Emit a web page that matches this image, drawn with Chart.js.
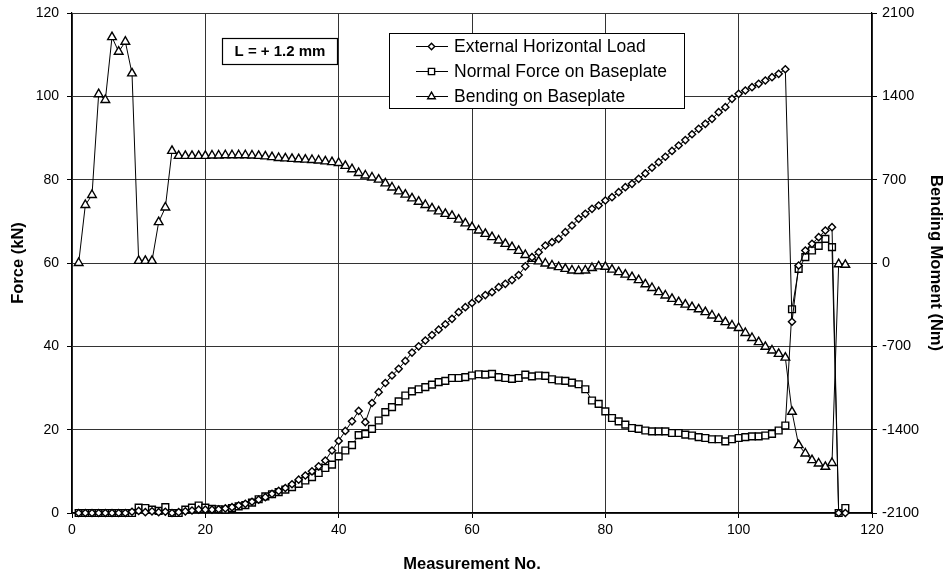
<!DOCTYPE html>
<html>
<head>
<meta charset="utf-8">
<script src="https://cdn.jsdelivr.net/npm/chart.js@4.4.1/dist/chart.umd.min.js"></script>
<style>
  html, body { margin: 0; padding: 0; background: #ffffff; }
  #wrap { width: 951px; height: 578px; position: relative; }
</style>
</head>
<body>
<div id="wrap"><canvas id="c" width="951" height="578"></canvas></div>
<script>
const measurement = [1,2,3,4,5,6,7,8,9,10,11,12,13,14,15,16,17,18,19,20,
  21,22,23,24,25,26,27,28,29,30,31,32,33,34,35,36,37,38,39,40,
  41,42,43,44,45,46,47,48,49,50,51,52,53,54,55,56,57,58,59,60,
  61,62,63,64,65,66,67,68,69,70,71,72,73,74,75,76,77,78,79,80,
  81,82,83,84,85,86,87,88,89,90,91,92,93,94,95,96,97,98,99,100,
  101,102,103,104,105,106,107,108,109,110,111,112,113,114,115,116];

// External Horizontal Load (kN)
const externalLoad = [0,0,0,0,0,0,0,0,0.3,0.5,
  0.2,0.4,0.2,0.3,0,0.2,0.4,0.6,0.8,0.8,
  0.8,0.9,1.1,1.4,1.8,2.2,2.7,3.2,3.8,4.6,
  5.3,6.0,6.9,8.0,9.0,10.0,11.2,12.6,15.0,17.3,
  19.7,22.0,24.5,21.8,26.4,29.0,31.2,33.0,34.6,36.5,
  38.5,40.0,41.4,42.7,44.0,45.3,46.6,48.2,49.4,50.4,
  51.4,52.3,53.0,54.2,55.0,55.9,57.1,59.2,61.4,62.6,
  64.2,65.0,65.8,67.4,69.0,70.6,71.8,73.0,73.8,75.0,
  75.8,77.0,78.2,79.0,80.2,81.5,82.9,84.2,85.5,86.9,
  88.2,89.5,90.9,92.2,93.4,94.6,96.2,97.4,99.4,100.6,
  101.4,102.2,103.0,103.8,104.6,105.4,106.5,45.9,59.4,63.0,
  64.6,66.2,67.8,68.6,0,0];

// Normal Force on Baseplate (kN)
const normalForce = [0,0,0,0,0,0,0,0,0,1.3,
  1.2,0.8,0.5,1.4,0,0,0.8,1.3,1.8,1.3,
  1.0,0.9,0.8,1.2,1.6,1.9,2.5,3.3,4.0,4.5,
  5.0,5.6,6.2,7.0,7.8,8.6,9.6,10.8,11.6,13.6,
  15.0,16.3,18.7,19.0,20.2,22.2,24.2,25.4,26.8,28.2,
  29.2,29.7,30.2,30.8,31.4,31.7,32.4,32.4,32.6,33.0,
  33.3,33.2,33.4,32.6,32.4,32.2,32.4,33.2,32.8,33.0,
  32.9,32.1,31.8,31.7,31.3,30.9,29.7,27.0,26.2,24.4,
  22.8,22.0,21.2,20.4,20.2,19.8,19.6,19.6,19.6,19.2,
  19.2,18.8,18.6,18.2,18.0,17.7,17.7,17.2,17.7,18.0,
  18.2,18.4,18.4,18.6,19.0,19.8,21.0,48.9,58.6,61.4,
  63.0,64.1,65.8,63.8,0,1.2];

// Bending on Baseplate (Nm)
const bendingMoment = [0,487,571,1418,1369,1897,1775,1859,1593,18,
  18,18,343,466,942,900,900,900,900,900,
  903,903,905,905,905,905,903,900,896,889,
  882,879,875,872,868,865,861,854,847,840,
  816,788,756,735,718,700,669,634,602,574,
  543,515,487,459,434,413,396,364,333,301,
  273,245,217,189,161,133,102,67,35,14,
  -4,-21,-35,-49,-63,-67,-63,-42,-28,-32,
  -56,-77,-98,-119,-144,-179,-210,-245,-273,-301,
  -329,-350,-371,-389,-413,-441,-469,-497,-525,-546,
  -588,-630,-665,-704,-735,-763,-795,-1250,-1530,-1600,
  -1656,-1684,-1712,-1680,-10,-15];

const seriesNames = ['External Horizontal Load', 'Normal Force on Baseplate', 'Bending on Baseplate'];
const annotationText = 'L = + 1.2 mm';
const xTitle = 'Measurement No.';
const yTitle = 'Force (kN)';
const y1Title = 'Bending Moment (Nm)';

function pts(vals) { return measurement.map((m, i) => ({ x: m, y: vals[i] })); }

const FONT = '"Liberation Sans", Arial, Helvetica, sans-serif';

const styles = [
  { pointStyle: 'rectRot', pointRadius: 3.6 },
  { pointStyle: 'rect', pointRadius: 4.8 },
  { pointStyle: 'triangle', pointRadius: 5 }
];

function drawMarker(ctx, style, x, y, r) {
  ctx.beginPath();
  if (style === 'rectRot') {
    ctx.moveTo(x, y - r); ctx.lineTo(x + r, y); ctx.lineTo(x, y + r); ctx.lineTo(x - r, y); ctx.closePath();
  } else if (style === 'rect') {
    const s = r * Math.SQRT1_2;
    ctx.rect(x - s, y - s, 2 * s, 2 * s);
  } else {
    const h = r * 0.866;
    ctx.moveTo(x, y - r); ctx.lineTo(x + h, y + r / 2); ctx.lineTo(x - h, y + r / 2); ctx.closePath();
  }
  ctx.fillStyle = '#fff'; ctx.fill();
  ctx.lineWidth = 1.4; ctx.strokeStyle = '#000'; ctx.stroke();
}

const overlay = {
  id: 'overlay',
  afterDatasetsDraw(chart) {
    const ctx = chart.ctx;
    ctx.save();
    // annotation box
    ctx.fillStyle = '#fff';
    ctx.fillRect(222, 38, 115, 27);
    ctx.strokeStyle = '#000'; ctx.lineWidth = 1.2;
    ctx.strokeRect(222.5, 38.5, 115, 26);
    ctx.fillStyle = '#000';
    ctx.font = 'bold 15px ' + FONT;
    ctx.textAlign = 'center'; ctx.textBaseline = 'middle';
    ctx.fillText(annotationText, 280, 52);
    // legend box
    ctx.fillStyle = '#fff';
    ctx.fillRect(389, 33, 296, 76);
    ctx.strokeStyle = '#000'; ctx.lineWidth = 1;
    ctx.strokeRect(389.5, 33.5, 295, 75);
    ctx.font = '17.5px ' + FONT;
    ctx.textAlign = 'left';
    const rows = [46, 71, 96];
    seriesNames.forEach((name, i) => {
      const y = rows[i];
      ctx.beginPath(); ctx.moveTo(416, y + 0.5); ctx.lineTo(448, y + 0.5);
      ctx.strokeStyle = '#000'; ctx.lineWidth = 1; ctx.stroke();
      drawMarker(ctx, styles[i].pointStyle, 431.5, y + 0.5, i === 0 ? 3.2 : 4.4);
      ctx.fillStyle = '#000';
      ctx.fillText(name, 454, y + 1);
    });
    ctx.restore();
  }
};

const mk = (label, vals, axis, st) => ({
  label, data: pts(vals), yAxisID: axis,
  borderColor: '#000', borderWidth: 1,
  pointStyle: st.pointStyle, pointRadius: st.pointRadius,
  pointBackgroundColor: '#fff', pointBorderColor: '#000', pointBorderWidth: 1.4,
  tension: 0, clip: false, fill: false
});

new Chart(document.getElementById('c'), {
  type: 'line',
  data: {
    datasets: [
      mk(seriesNames[0], externalLoad, 'y', styles[0]),
      mk(seriesNames[1], normalForce, 'y', styles[1]),
      mk(seriesNames[2], bendingMoment, 'y1', styles[2])
    ]
  },
  options: {
    responsive: false,
    animation: false,
    devicePixelRatio: 1,
    layout: { padding: { top: 13, right: 0, left: 0, bottom: 0 } },
    plugins: { legend: { display: false }, tooltip: { enabled: false } },
    scales: {
      x: {
        type: 'linear', min: 0, max: 120,
        ticks: { stepSize: 20, color: '#000', font: { family: FONT, size: 14 }, padding: 4, callback: v => String(v) },
        grid: { color: '#333', lineWidth: 1, tickLength: 5, tickColor: '#000' },
        border: { color: '#000', width: 1.2 },
        title: { display: true, text: xTitle, color: '#000', font: { family: FONT, size: 16.5, weight: 'bold' }, padding: { top: 4, bottom: 4 } },
        afterFit(s) { s.height = 65; }
      },
      y: {
        position: 'left', min: 0, max: 120,
        ticks: { stepSize: 20, color: '#000', font: { family: FONT, size: 14 }, padding: 8, callback: v => String(v) },
        grid: { color: '#333', lineWidth: 1, tickLength: 5, tickColor: '#000' },
        border: { color: '#000', width: 1.2 },
        title: { display: true, text: yTitle, color: '#000', font: { family: FONT, size: 16.5, weight: 'bold' }, padding: { top: 9, bottom: 0 } },
        afterFit(s) { s.width = 72; s.paddingTop = 0; s.paddingBottom = 0; }
      },
      y1: {
        position: 'right', min: -2100, max: 2100,
        ticks: { stepSize: 700, color: '#000', font: { family: FONT, size: 14.5 }, padding: 5, callback: v => String(v) },
        grid: { drawOnChartArea: false, tickLength: 5, tickColor: '#000' },
        border: { color: '#000', width: 1.2 },
        title: { display: true, text: y1Title, color: '#000', font: { family: FONT, size: 16.5, weight: 'bold' }, padding: { top: 6, bottom: 0 } },
        afterFit(s) { s.width = 79; s.paddingTop = 0; s.paddingBottom = 0; }
      }
    }
  },
  plugins: [overlay]
});
</script>
</body>
</html>
